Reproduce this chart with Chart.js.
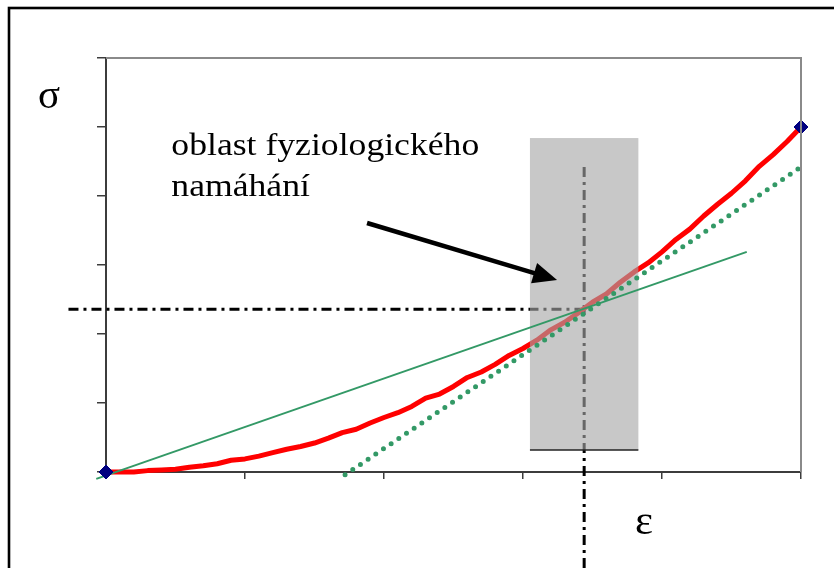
<!DOCTYPE html>
<html>
<head>
<meta charset="utf-8">
<script src="https://cdn.jsdelivr.net/npm/chart.js@4/dist/chart.umd.min.js"></script>
<style>
  html, body { margin: 0; padding: 0; background: #fff; }
  canvas { display: block; }
</style>
</head>
<body>
<canvas id="c" width="834" height="568"></canvas>
<script>
// Stress–strain curve (ε on x, σ on y)
const strain = [0.0, 0.1, 0.2, 0.3, 0.4, 0.5, 0.6, 0.7, 0.8, 0.9,
                1.0, 1.1, 1.2, 1.3, 1.4, 1.5, 1.6, 1.7, 1.8, 1.9,
                2.0, 2.1, 2.2, 2.3, 2.4, 2.5, 2.6, 2.7, 2.8, 2.9,
                3.0, 3.1, 3.2, 3.3, 3.4, 3.5, 3.6, 3.7, 3.8, 3.9,
                4.0, 4.1, 4.2, 4.3, 4.4, 4.5, 4.6, 4.7, 4.8, 4.9, 5.0];
const stress = [0.00, 0.00, 0.00, 0.02, 0.03, 0.04, 0.07, 0.09, 0.12, 0.17,
                0.19, 0.23, 0.28, 0.33, 0.37, 0.42, 0.49, 0.57, 0.62, 0.71,
                0.79, 0.86, 0.95, 1.07, 1.13, 1.24, 1.37, 1.45, 1.56, 1.69,
                1.79, 1.91, 2.06, 2.17, 2.31, 2.46, 2.58, 2.75, 2.90, 3.03,
                3.19, 3.37, 3.52, 3.71, 3.88, 4.04, 4.22, 4.43, 4.60, 4.79, 5.00];

// End points of the measured curve
const endX = [0, 5];
const endY = [0, 5];

// Secant through the origin region and the working point
const secantX = [-0.07, 4.61];
const secantY = [-0.10, 3.19];

// Tangent at the working point
const tangentX = [1.72, 5.00];
const tangentY = [-0.04, 4.42];

// Guide lines through the working point
const guideHX = [-0.27, 3.44];
const guideHY = [2.36, 2.36];
const guideVX = [3.44, 3.44];
const guideVY = [4.42, -1.40];

// Axis ranges
const xTicks = [0, 1, 2, 3, 4, 5];
const yTicks = [0, 1, 2, 3, 4, 5, 6];

const pts = (xs, ys) => xs.map((x, i) => ({ x, y: ys[i] }));

// Annotation layout (in axis units)
const physioBand = { x0: 3.05, x1: 3.83, y0: 0.32, y1: 4.84 };
const noteLines = ['oblast fyziologického', 'namáhání'];
const noteX = 0.47;
const noteY = [4.59, 4.00];
const arrowFrom = [1.878, 3.609];
const arrowTo = [3.245, 2.783];
const sigmaAt = [-0.49, 5.275];
const epsAt = [3.806, -0.899];

const SERIF = '"Liberation Serif", "Times New Roman", serif';

// text drawn slightly widened, as in the original chart export
function wideText(ctx, s, x, y, sx) {
  ctx.save();
  ctx.translate(x, y);
  ctx.scale(sx, 1);
  ctx.fillText(s, 0, 0);
  ctx.restore();
}

const decor = {
  id: 'decor',
  beforeDraw(chart) {
    const ctx = chart.ctx;
    ctx.save();
    ctx.fillStyle = '#fff';
    ctx.fillRect(0, 0, chart.width, chart.height);
    ctx.strokeStyle = '#000';
    ctx.lineWidth = 2.6;
    ctx.strokeRect(9, 8, 1000, 1000);
    ctx.restore();
  },
  afterDatasetDraw(chart, args) {
    // translucent band drawn over the curve, beneath the straight lines
    if (args.index !== 2) return;
    const ctx = chart.ctx, sx = chart.scales.x, sy = chart.scales.y;
    const l = sx.getPixelForValue(physioBand.x0), r = sx.getPixelForValue(physioBand.x1);
    const t = sy.getPixelForValue(physioBand.y1), b = sy.getPixelForValue(physioBand.y0);
    ctx.save();
    ctx.fillStyle = 'rgba(166,166,166,0.62)';
    ctx.fillRect(l, t, r - l, b - t);
    ctx.strokeStyle = '#222';
    ctx.lineWidth = 1.5;
    ctx.beginPath();
    ctx.moveTo(l, b); ctx.lineTo(r, b);
    ctx.stroke();
    ctx.restore();
  },
  afterDraw(chart) {
    const ctx = chart.ctx, sx = chart.scales.x, sy = chart.scales.y;
    const a = chart.chartArea;
    ctx.save();
    // top and right frame of the plot area
    ctx.strokeStyle = '#8a8a8a';
    ctx.lineWidth = 2;
    ctx.beginPath();
    ctx.moveTo(a.left, a.top);
    ctx.lineTo(a.right, a.top);
    ctx.lineTo(a.right, a.bottom);
    ctx.stroke();

    // note text
    ctx.fillStyle = '#000';
    ctx.textBaseline = 'alphabetic';
    ctx.textAlign = 'left';
    ctx.font = '31px ' + SERIF;
    noteLines.forEach((s, i) => {
      wideText(ctx, s, sx.getPixelForValue(noteX), sy.getPixelForValue(noteY[i]), 1.15);
    });

    // axis symbols
    ctx.font = '39px ' + SERIF;
    wideText(ctx, 'σ', sx.getPixelForValue(sigmaAt[0]), sy.getPixelForValue(sigmaAt[1]), 1.05);
    wideText(ctx, 'ε', sx.getPixelForValue(epsAt[0]), sy.getPixelForValue(epsAt[1]), 1.1);

    // arrow pointing into the band
    const x1 = sx.getPixelForValue(arrowFrom[0]), y1 = sy.getPixelForValue(arrowFrom[1]);
    const x2 = sx.getPixelForValue(arrowTo[0]), y2 = sy.getPixelForValue(arrowTo[1]);
    const ang = Math.atan2(y2 - y1, x2 - x1);
    const headLen = 24, headW = 10.5;
    const bx = x2 - headLen * Math.cos(ang), by = y2 - headLen * Math.sin(ang);
    ctx.strokeStyle = '#000';
    ctx.lineWidth = 4.5;
    ctx.beginPath();
    ctx.moveTo(x1, y1);
    ctx.lineTo(bx + 2 * Math.cos(ang), by + 2 * Math.sin(ang));
    ctx.stroke();
    ctx.beginPath();
    ctx.moveTo(x2, y2);
    ctx.lineTo(bx + headW * Math.sin(ang), by - headW * Math.cos(ang));
    ctx.lineTo(bx - headW * Math.sin(ang), by + headW * Math.cos(ang));
    ctx.closePath();
    ctx.fill();
    ctx.restore();
  }
};

const AXIS = '#3c3c3c';
const GREEN = '#339966';

new Chart(document.getElementById('c'), {
  type: 'line',
  data: {
    datasets: [
      { // 0 horizontal guide
        data: pts(guideHX, guideHY), borderColor: '#000', borderWidth: 3,
        borderDash: [10, 5, 3, 5], pointRadius: 0, clip: false, order: 10
      },
      { // 1 vertical guide
        data: pts(guideVX, guideVY), borderColor: '#000', borderWidth: 3,
        borderDash: [10, 5, 3, 5], pointRadius: 0, clip: false, order: 9
      },
      { // 2 measured curve
        data: pts(strain, stress), borderColor: '#ff0000', borderWidth: 5,
        pointRadius: 0, tension: 0, clip: false, order: 8,
        borderJoinStyle: 'round'
      },
      { // 3 secant
        data: pts(secantX, secantY), borderColor: GREEN, borderWidth: 2,
        pointRadius: 0, clip: false, order: 3
      },
      { // 4 tangent
        data: pts(tangentX, tangentY), borderColor: GREEN, borderWidth: 5,
        borderDash: [0, 9.26], borderCapStyle: 'round',
        pointRadius: 0, clip: false, order: 2
      },
      { // 5 end markers
        data: pts(endX, endY), showLine: false, pointStyle: 'rectRot',
        pointRadius: 7, pointBackgroundColor: '#000080', pointBorderColor: '#000080',
        pointBorderWidth: 1, clip: false, order: 1
      }
    ]
  },
  options: {
    responsive: false,
    animation: false,
    events: [],
    layout: { padding: { left: 97, top: 58, right: 33, bottom: 89 } },
    plugins: { legend: { display: false }, tooltip: { enabled: false } },
    scales: {
      x: {
        type: 'linear', min: xTicks[0], max: xTicks[xTicks.length - 1],
        afterBuildTicks: s => { s.ticks = xTicks.map(v => ({ value: v })); },
        ticks: { display: false },
        grid: { drawOnChartArea: false, drawTicks: true, tickLength: 7, color: AXIS, lineWidth: 1.5 },
        border: { display: true, color: AXIS, width: 2 }
      },
      y: {
        type: 'linear', min: yTicks[0], max: yTicks[yTicks.length - 1],
        afterBuildTicks: s => { s.ticks = yTicks.map(v => ({ value: v })); },
        ticks: { display: false },
        grid: { drawOnChartArea: false, drawTicks: true, tickLength: 9, color: AXIS, lineWidth: 1.5 },
        border: { display: true, color: AXIS, width: 2 }
      }
    }
  },
  plugins: [decor]
});
</script>
</body>
</html>
